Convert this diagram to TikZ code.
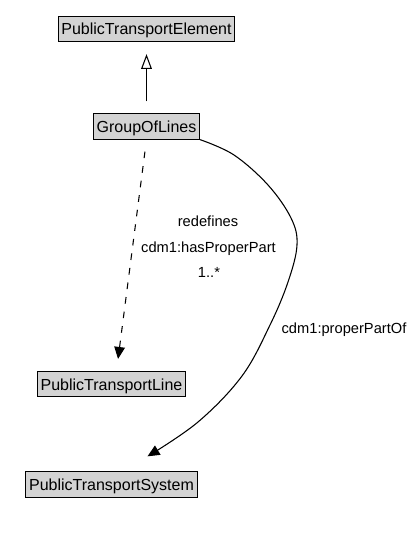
\documentclass[tikz,border=0pt]{standalone}
\usepackage{fontspec}
\setmainfont{Liberation Sans}
\usetikzlibrary{arrows.meta}
\usetikzlibrary{calc}
\definecolor{boxgray}{RGB}{211,211,211}
\tikzset{
    classbox/.style={draw=black, fill=boxgray, line width=0.75pt, inner xsep=2.5pt, inner ysep=2.5pt, text height=11.5pt, text depth=2.5pt, font=\fontsize{12}{14}\selectfont},
    edgelabel/.style={anchor=base, font=\fontsize{11}{13}\selectfont},
}

\begin{document}
\begin{tikzpicture}[x=0.75pt, y=-0.75pt, line width=0.8pt]
        \useasboundingbox (0,0) rectangle (415,535);
        \node[classbox] (PublicTransportElement) at (146.5,29) {PublicTransportElement};
        \node[classbox] (GroupOfLines) at (146.5,126.5) {GroupOfLines};
        \node[classbox] (PublicTransportLine) at (111.5,384) {PublicTransportLine};
        \node[classbox] (PublicTransportSystem) at (111.5,484.5) {PublicTransportSystem};
        % generalisation
        \draw [-{Triangle[open, length=11pt, width=8pt]}, shorten <=9pt, shorten >=9pt] (GroupOfLines.north) -- (PublicTransportElement.south);
        % redefined property
        \draw [dash pattern=on 5pt off 6pt, -{Triangle[length=9pt, width=8pt]}, shorten <=9pt, shorten >=9pt] (GroupOfLines.south) -- ([xshift=3.75pt]PublicTransportLine.north);
        \node[edgelabel] (redefinesLabel) at (208,226) {redefines};
        \node[edgelabel] (hasProperPartLabel) at (208.5,252) {cdm1:hasProperPart};
        \node[edgelabel] (multiplicityLabel) at (209,277) {1..*};
        % inverse property
        \coordinate (systemEnd) at ([shift={(36,-15)}]PublicTransportSystem.north);
        \draw [-{Triangle[length=9pt, width=8pt]}] plot [smooth, tension=0.6] coordinates {(GroupOfLines.south east) (234,155) (268,185) (291,218) (297,245) (288,282) (270,325) (242,376) (198,422) (systemEnd)};
        \node[edgelabel] (properPartOfLabel) at (344,333) {cdm1:properPartOf};
\end{tikzpicture}
\end{document}
